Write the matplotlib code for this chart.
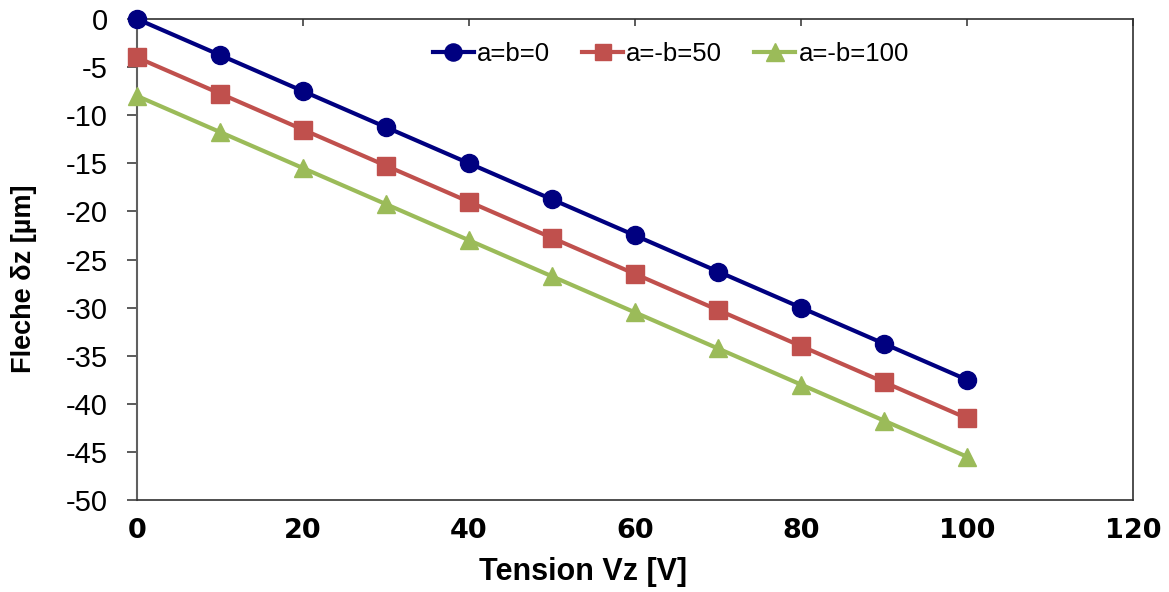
import matplotlib
matplotlib.use("Agg")
import matplotlib.pyplot as plt

# Deflection versus applied voltage for three electrode configurations
tension = [0, 10, 20, 30, 40, 50, 60, 70, 80, 90, 100]
fleche_ab0 = [0, -3.75, -7.5, -11.25, -15, -18.75, -22.5, -26.25, -30, -33.75, -37.5]
fleche_ab50 = [-4, -7.75, -11.5, -15.25, -19, -22.75, -26.5, -30.25, -34, -37.75, -41.5]
fleche_ab100 = [-8, -11.75, -15.5, -19.25, -23, -26.75, -30.5, -34.25, -38, -41.75, -45.5]
labels = ["a=b=0", "a=-b=50", "a=-b=100"]
x_ticks = [0, 20, 40, 60, 80, 100, 120]
y_ticks = [0, -5, -10, -15, -20, -25, -30, -35, -40, -45, -50]

plt.rcParams["font.family"] = ["Liberation Sans", "DejaVu Sans"]

fig = plt.figure(figsize=(11.69, 5.92), dpi=100)
ax = fig.add_axes([0.1172, 0.1554, 0.852, 0.8125])

series = [
    (fleche_ab0, "#000080", "o", 13),
    (fleche_ab50, "#C0504D", "s", 12.5),
    (fleche_ab100, "#9BBB59", "^", 13.5),
]
for (vals, color, marker, ms), lab in zip(series, labels):
    ax.plot(tension, vals, color=color, marker=marker, markersize=ms,
            linewidth=3, label=lab, clip_on=False, zorder=3)

ax.set_xlim(0, 120)
ax.set_ylim(-50, 0)
ax.set_xticks(x_ticks)
ax.set_yticks(y_ticks)

# x ticks sit on the top edge (axis crosses at zero), labels stay at the bottom
ax.tick_params(axis="x", bottom=False, top=True, direction="in", length=5,
               width=1.2, color="#404040", labelbottom=True, labeltop=False, pad=13)
ax.tick_params(axis="y", direction="out", length=7, width=1.2, color="#404040", pad=14)
ax.set_xticklabels([str(v) for v in x_ticks], fontsize=19.5, fontweight="bold",
                   family=["DejaVu Sans"])
ax.set_yticklabels([str(v) for v in y_ticks], fontsize=21)

for side in ["top", "right", "bottom"]:
    ax.spines[side].set_color("#303030")
    ax.spines[side].set_linewidth(1.2)
ax.spines["left"].set_color("#606060")
ax.spines["left"].set_linewidth(1.5)

ax.set_xlabel("Tension Vz [V]", fontsize=22, fontweight="bold")
ax.xaxis.set_label_coords(0.448, -0.118)
ax.set_ylabel("Fleche δz [µm]", fontsize=19.5, fontweight="bold")
ax.yaxis.set_label_coords(-0.1004, 0.459)

legend_size = 18.5
h_len = 41 / (legend_size * 100 / 72)
ax.legend(loc="center left", bbox_to_anchor=(0.297, 0.927), ncol=3, frameon=False,
          fontsize=legend_size, handlelength=h_len, handletextpad=0.12,
          columnspacing=1.25, markerscale=0.95, borderpad=0, borderaxespad=0)

fig.savefig("out.png", dpi=100, facecolor="white")
